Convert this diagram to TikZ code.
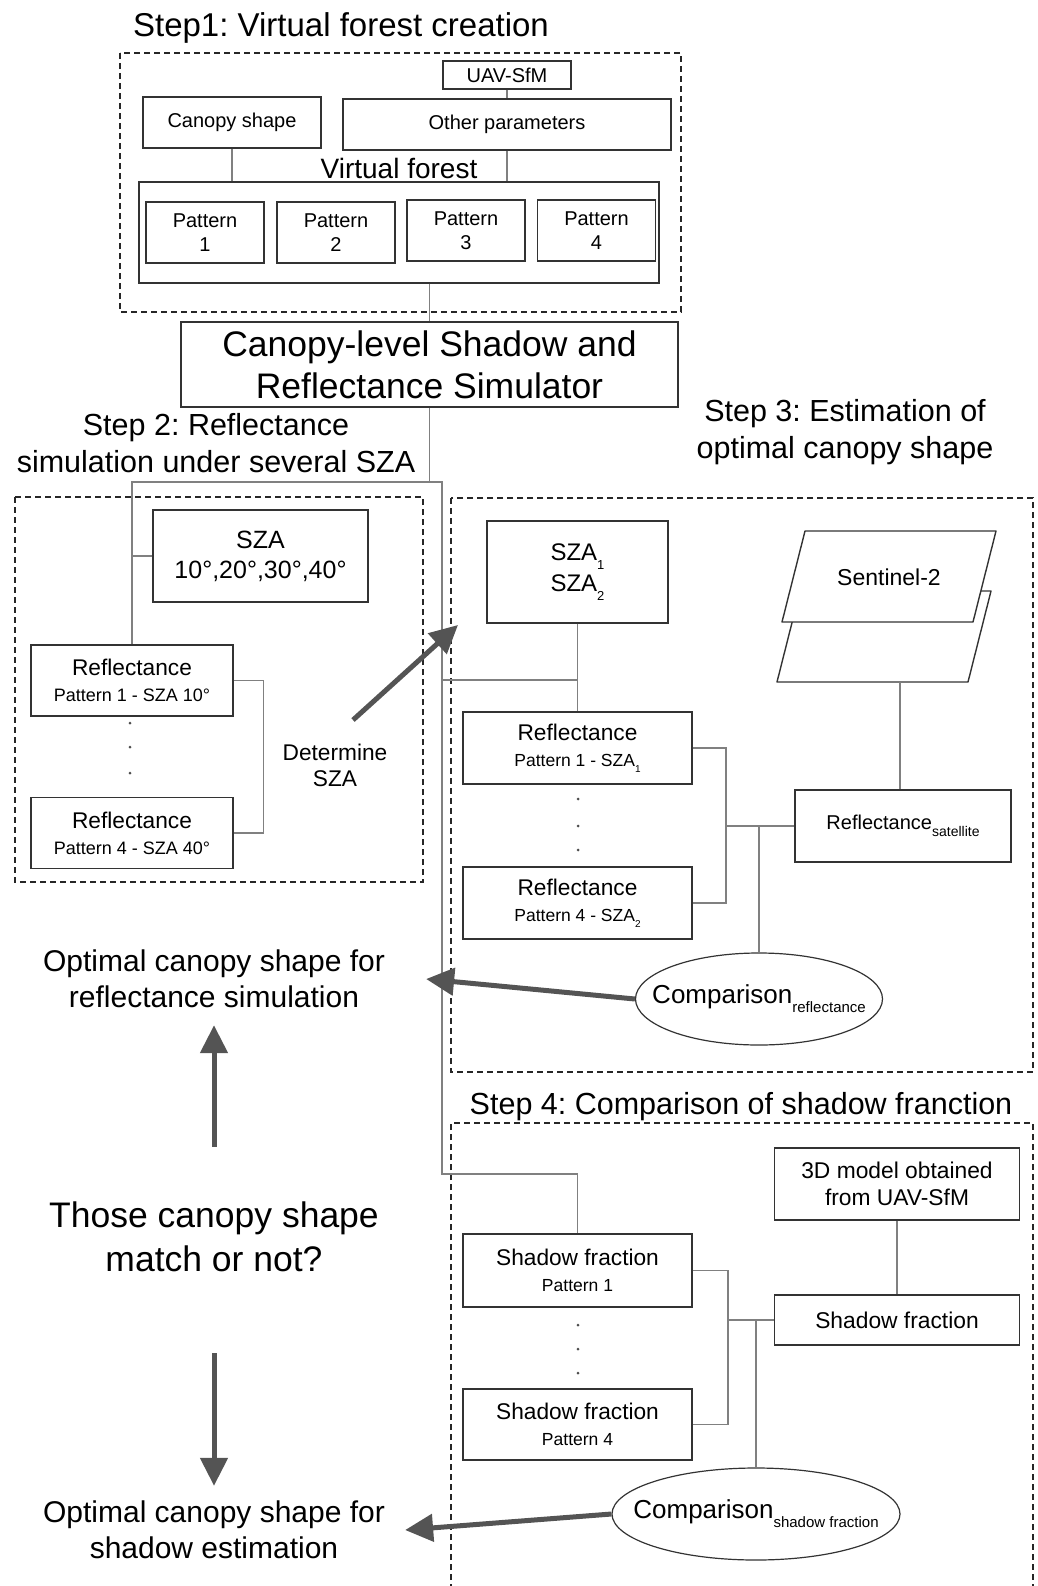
\documentclass[tikz,border=0pt]{standalone}
\usepackage{fontspec}
\setmainfont{Liberation Sans}
\usetikzlibrary{arrows.meta,shapes.geometric}
\newcommand{\lowtxt}[2][14]{\raisebox{-0.35em}{\fontsize{#1}{#1}\selectfont #2}}
\frenchspacing

\begin{document}
\begin{tikzpicture}[x=1pt,y=-1pt,
font=\color{black!88},
box/.style={rectangle,draw=black!80,line width=1.4,inner sep=0,align=center},
pat/.style={font=\fontsize{20}{24}\selectfont,minimum width=118,minimum height=61},
refl/.style={font=\fontsize{22.7}{26}\selectfont,minimum width=202,minimum height=71},
sheet/.style={draw=black!80,line width=1.4,fill=white,line join=round},
group/.style={draw=black!85,line width=1.3,dash pattern=on 6pt off 4pt},
link/.style={draw=black!50,line width=1.4},
oval/.style={ellipse,draw=black!80,line width=1.2,inner sep=0},
title/.style={font=\fontsize{30.5}{37}\selectfont,align=center,inner sep=0},
note/.style={font=\fontsize{30}{36}\selectfont,align=center,inner sep=0},
bigarrow/.style={draw=black!67,line width=5,-{Triangle[length=28pt,width=27pt]}},
dot/.style={circle,fill=black!70,minimum size=3pt,inner sep=0}
]
\useasboundingbox (0,0) rectangle (1037,1586);

% step 1
\node[title,font=\fontsize{33}{40}\selectfont] (t1) at (341,28) {Step1: Virtual forest creation};
\draw[group] (120,53) rectangle (681,312);
\node[box,font=\fontsize{20}{24}\selectfont,minimum width=128,minimum height=28] (uav) at (507,75) {UAV-SfM};
\node[box,font=\fontsize{20}{24}\selectfont,minimum width=178,minimum height=51] (canopy) at (232,122.5) {Canopy shape};
\node[box,font=\fontsize{20}{24}\selectfont,minimum width=328,minimum height=51] (other) at (507,124.5) {Other parameters};
\node[box,minimum width=520,minimum height=101,
  label={[font=\fontsize{28}{30}\selectfont,inner sep=2pt]above:Virtual forest}] (forest) at (399,232.5) {};
\node[box,pat] (p1) at (205,232.5) {Pattern\\1};
\node[box,pat] (p2) at (336,232.5) {Pattern\\2};
\node[box,pat] (p3) at (466,230.5) {Pattern\\3};
\node[box,pat] (p4) at (596.5,230.5) {Pattern\\4};
\node[box,font=\fontsize{35.5}{42}\selectfont,minimum width=497,minimum height=85] (sim) at (429.5,364.5) {Canopy-level Shadow and\\Reflectance Simulator};
\draw[link] (uav.south) -- (other.north);
\draw[link] (canopy.south) -- (canopy.south |- forest.north);
\draw[link] (other.south) -- (other.south |- forest.north);
\draw[link] (sim.north |- forest.south) -- (sim.north);

% step 2
\node[title] (t2) at (216,443.5) {Step 2: Reflectance\\simulation under several SZA};
\draw[group] (15,497) rectangle (423,882);
\node[box,font=\fontsize{25}{30}\selectfont,minimum width=215,minimum height=92] (sza) at (260.5,556) {SZA\\10°,20°,30°,40°};
\node[box,refl] (r10) at (132,680.5) {Reflectance\\{\fontsize{18}{18}\selectfont Pattern 1 - SZA 10°}};
\node[box,refl] (r40) at (132,833) {Reflectance\\{\fontsize{18}{18}\selectfont Pattern 4 - SZA 40°}};
\foreach \y in {723,747,773} \node[dot] (dl\y) at (130,\y) {};
\node[font=\fontsize{22.7}{26}\selectfont,align=center,inner sep=0] (det) at (335,765) {Determine\\SZA};
\coordinate (detfrom) at (353,720);
\coordinate (detto) at (458,625);
\coordinate (split) at (442,482);
\coordinate (down) at (442,1174);
\coordinate (tap) at (442,680);
\draw[link] (sim.south) -- (sim.south |- split);
\draw[link] (sza.west) -- (sza.west -| r10.north);
\draw[link] (r10.east) -- ++(30,0) |- (r40.east);

% step 3
\node[title] (t3) at (845,432) {Step 3: Estimation of\\optimal canopy shape};
\draw[group] (451,498) rectangle (1033,1072);
\node[box,font=\fontsize{24}{31}\selectfont,minimum width=181,minimum height=102] (szab) at (577.5,572) {SZA\lowtxt[13]{1}\\SZA\lowtxt[13]{2}};
\draw[sheet] (777,682) -- (800,591) -- (991,591) -- (968,682) -- cycle;
\draw[sheet] (782,622) -- (805,531) -- (996,531) -- (973,622) -- cycle;
\node[font=\fontsize{23}{26}\selectfont,inner sep=0] (sen) at (889,577) {Sentinel-2};
\coordinate (senfoot) at (900,682);
\node[box,refl,minimum width=229,minimum height=72] (r1) at (577.5,748) {Reflectance\\{\fontsize{17.5}{18}\selectfont Pattern 1 - SZA\lowtxt[10]{1}}};
\node[box,refl,minimum width=229,minimum height=72] (r2) at (577.5,903) {Reflectance\\{\fontsize{17.5}{18}\selectfont Pattern 4 - SZA\lowtxt[10]{2}}};
\foreach \y in {799,826,850} \node[dot] (dm\y) at (578,\y) {};
\node[box,font=\fontsize{20}{24}\selectfont,minimum width=216,minimum height=72] (rsat) at (903,826) {Reflectance\lowtxt[14]{satellite}};
\node[oval,minimum width=247,minimum height=92,
  label={[font=\fontsize{26}{30}\selectfont]center:Comparison\lowtxt[15]{reflectance}}] (cmp1) at (759,999) {};
\coordinate (j3) at (726,826);
\draw[link] (szab.south) -- (r1.north);
\draw[link] (tap) -- (tap -| r1.north);
\draw[link] (senfoot) -- (senfoot |- rsat.north);
\draw[link] (r1.east) -| (j3) |- (r2.east);
\draw[link] (j3) -- (rsat.west);
\draw[link] (cmp1.north |- j3) -- (cmp1.north);

% step 4
\node[title] (t4) at (741,1107) {Step 4: Comparison of shadow franction};
\draw[group] (451,1600) |- (1033,1123) -- (1033,1600);
\node[box,font=\fontsize{22.8}{27}\selectfont,minimum width=245,minimum height=72] (m3d) at (897,1184) {3D model obtained\\from UAV-SfM};
\node[box,font=\fontsize{22.8}{27}\selectfont,minimum width=245,minimum height=50] (sfr) at (897,1320) {Shadow fraction};
\node[box,refl,minimum width=229,minimum height=73] (sf1) at (577.5,1270.5) {Shadow fraction\\{\fontsize{17.5}{18}\selectfont Pattern 1}};
\node[box,refl,minimum width=229,minimum height=71] (sf4) at (577.5,1424.5) {Shadow fraction\\{\fontsize{17.5}{18}\selectfont Pattern 4}};
\foreach \y in {1325,1349,1373} \node[dot] (dr\y) at (578,\y) {};
\node[oval,minimum width=288,minimum height=92,
  label={[font=\fontsize{26}{30}\selectfont]center:Comparison\lowtxt[15]{shadow fraction}}] (cmp2) at (756,1514) {};
\coordinate (j4) at (728,1320);
\draw[link] (m3d.south) -- (sfr.north);
\draw[link] (sf1.east) -| (j4) |- (sf4.east);
\draw[link] (j4) -- (sfr.west);
\draw[link] (cmp2.north |- j4) -- (cmp2.north);
\draw[link] (r10.north) |- (split) -- (down) -| (sf1.north);

% outcome
\node[note] (opt1) at (214,979) {Optimal canopy shape for\\reflectance simulation};
\node[note,font=\fontsize{35.5}{44}\selectfont] (q) at (214,1237) {Those canopy shape\\match or not?};
\node[note] (opt2) at (214,1530) {Optimal canopy shape for\\shadow estimation};
\draw[bigarrow] (detfrom) -- (detto);
\draw[bigarrow] (cmp1.west) -- ([xshift=41]opt1.east);
\draw[bigarrow] (cmp2.west) -- ([xshift=20]opt2.east);
\draw[bigarrow,shorten <=55,shorten >=17] (q.north) -- (opt1.south);
\draw[bigarrow,shorten <=81,shorten >=15] (q.south) -- (opt2.north);
\end{tikzpicture}
\end{document}
